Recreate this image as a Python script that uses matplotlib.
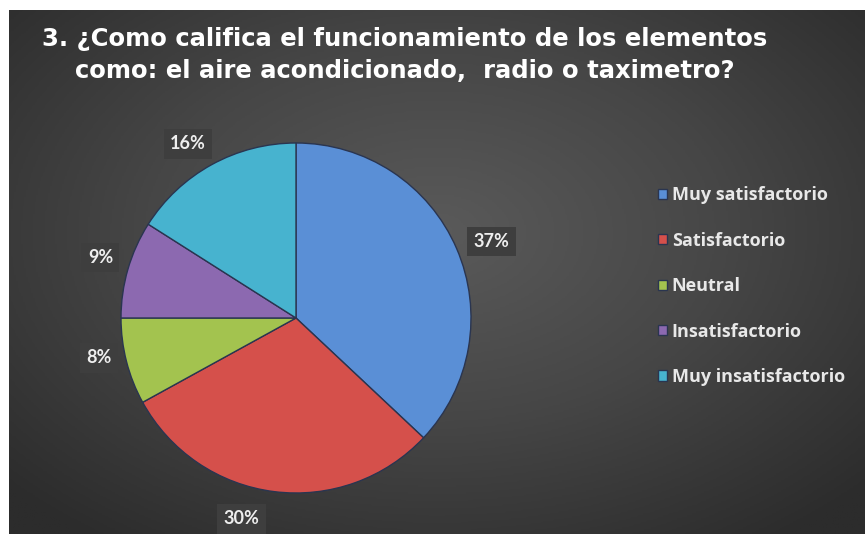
import numpy as np
import matplotlib
matplotlib.use("Agg")
import matplotlib.pyplot as plt
from matplotlib.colors import LinearSegmentedColormap

# datos de la encuesta, pregunta 3
categorias = ["Muy satisfactorio", "Satisfactorio", "Neutral",
              "Insatisfactorio", "Muy insatisfactorio"]
porcentajes = [37, 30, 8, 9, 16]
colores = ["#5a8fd6", "#d5504b", "#a3c34f", "#8c69b0", "#47b3cf"]
titulo = ("3. ¿Como califica el funcionamiento de los elementos\n"
          "como: el aire acondicionado,  radio o taximetro?")

W, H = 865, 534
fig = plt.figure(figsize=(W / 100, H / 100), dpi=100, facecolor="white")

# fondo gris oscuro con degradado radial
bg = fig.add_axes([9 / W, 0, 1 - 9 / W, 1 - 10 / H])
yy, xx = np.mgrid[-1:1:300j, -1:1:500j]
r = np.sqrt((xx * 0.95) ** 2 + ((yy + 0.15) * 0.9) ** 2)
cmap_bg = LinearSegmentedColormap.from_list("bg", ["#5a5a5a", "#464646", "#2c2c2c"])
bg.imshow(r, cmap=cmap_bg, aspect="auto", extent=[0, 1, 0, 1], vmin=0, vmax=1.3)
bg.set_axis_off()

# grafico de pastel
cx, cy, rad = 296, 318, 175
ax = fig.add_axes([(cx - rad) / W, (H - cy - rad) / H, 2 * rad / W, 2 * rad / H])
wedges, _, autotexts = ax.pie(
    porcentajes, colors=colores, startangle=90, counterclock=False,
    autopct="%d%%", pctdistance=1.18, radius=1,
    wedgeprops=dict(edgecolor="#2a3550", linewidth=1.0),
)

# etiquetas fuera del pastel, con un pequeno giro para separarlas
giro = [2, 8, 3, 1, -3]
dist = [1.2, 1.19, 1.15, 1.17, 1.17]
for w, t, g, d in zip(wedges, autotexts, giro, dist):
    ang = np.deg2rad((w.theta1 + w.theta2) / 2 - g)
    t.set_position((d * np.cos(ang), d * np.sin(ang)))
    t.set_color("#eeeeee")
    t.set_fontsize(13)
    t.set_fontweight("bold")
    t.set_family("Lato")
    t.set_bbox(dict(boxstyle="square,pad=0.35", facecolor="#3e3e3e", edgecolor="none"))
ax.set_xlim(-1, 1)
ax.set_ylim(-1, 1)
ax.set_axis_off()

fig.text(405 / W, 1 - 27 / H, titulo, ha="center", va="top", ma="center",
         color="white", fontsize=17.5, fontweight="bold", family="DejaVu Sans",
         linespacing=1.4)

leg = fig.legend(wedges, categorias, loc="upper left",
                 bbox_to_anchor=(642 / W, 1 - 170 / H), frameon=False,
                 handlelength=0.5, handleheight=0.5, handletextpad=0.25,
                 labelspacing=1.52, prop=dict(family="Open Sans", weight="bold", size=13))
for t in leg.get_texts():
    t.set_color("#e8e8e8")

fig.savefig("out.png", dpi=100, facecolor="white")
